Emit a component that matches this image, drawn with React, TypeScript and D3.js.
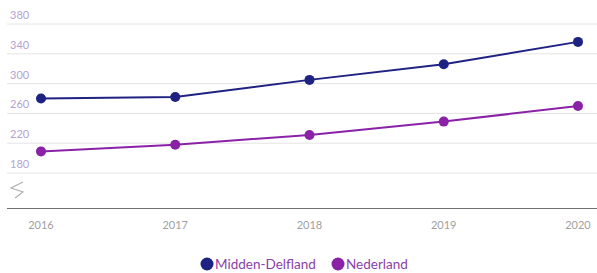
import React from "react";
import * as d3 from "d3";

const years = ["2016", "2017", "2018", "2019", "2020"];
const middenDelfland = [280, 282, 305, 326, 356];
const nederland = [209, 218, 231, 249, 270];
const yTicks = [180, 220, 260, 300, 340, 380];
const seriesNames = ["Midden-Delfland", "Nederland"];
const seriesColors = ["#1e2283", "#8a22a8"];

export default function App() {
  const W = 597, H = 273;
  const x = d3.scalePoint<string>().domain(years).range([41, 578]);
  const y = d3.scaleLinear().domain([180, 380]).range([173, 24]);
  const line = d3.line<number>().x((_, i) => x(years[i]) as number).y((d) => y(d));
  const series = [middenDelfland, nederland];
  const font = "Lato, 'Open Sans', sans-serif";
  return (
    <svg width={W} height={H} style={{ position: "absolute", left: 0, top: 0, background: "#fff" }} fontFamily={font}>
      {yTicks.map((t) => (
        <g key={t}>
          <line x1={7} x2={597} y1={y(t)} y2={y(t)} stroke="#e4e4e4" strokeWidth={1} />
          <text x={10} y={y(t) - 5} fontSize={11} fill="#b6a2d2">{t}</text>
        </g>
      ))}
      <line x1={7} x2={597} y1={208.5} y2={208.5} stroke="#707070" strokeWidth={1} />
      <path d="M23,182 L11,188 L23,192 L15,198" fill="none" stroke="#b0b0b0" strokeWidth={1.2} />
      {years.map((yr) => (
        <text key={yr} x={x(yr)} y={229} fontSize={11} fill="#a0a0a0" textAnchor="middle">{yr}</text>
      ))}
      {series.map((s, k) => (
        <g key={k}>
          <path d={line(s) || ""} fill="none" stroke={seriesColors[k]} strokeWidth={2} />
          {s.map((v, i) => (
            <circle key={i} cx={x(years[i])} cy={y(v)} r={5} fill={seriesColors[k]} />
          ))}
        </g>
      ))}
      <g>
        <circle cx={207} cy={264} r={6.5} fill={seriesColors[0]} />
        <text x={215} y={268.5} fontSize={13.5} fill="#8a3fa8">{seriesNames[0]}</text>
        <circle cx={338} cy={264} r={6.5} fill={seriesColors[1]} />
        <text x={346} y={268.5} fontSize={13.5} fill="#8a3fa8">{seriesNames[1]}</text>
      </g>
    </svg>
  );
}
